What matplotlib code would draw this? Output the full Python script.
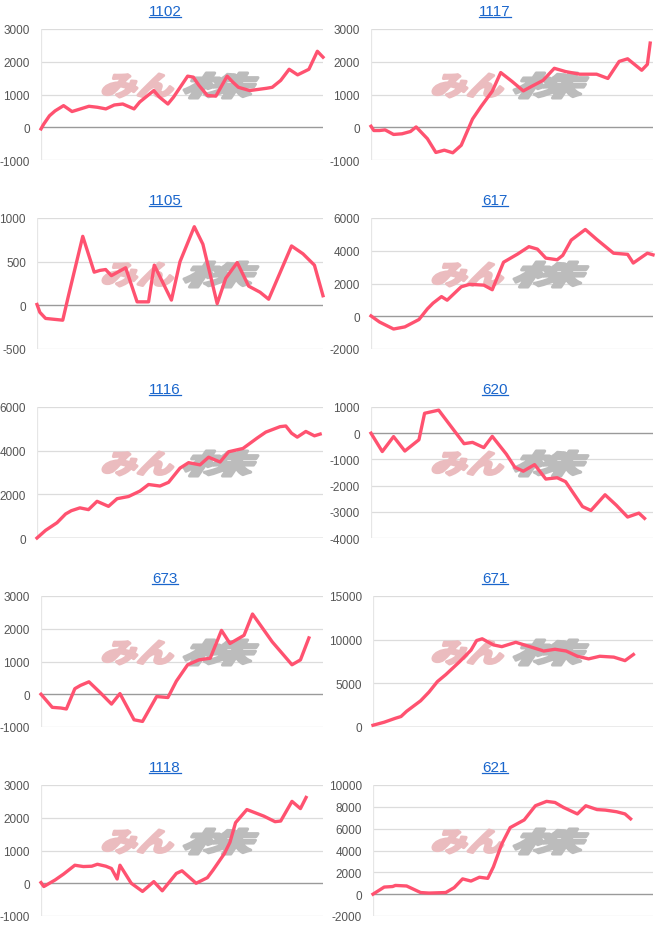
import matplotlib
matplotlib.use('Agg')
import matplotlib.pyplot as plt
from matplotlib.textpath import TextPath
from matplotlib.patches import PathPatch
from matplotlib.font_manager import FontProperties
from matplotlib.transforms import Affine2D, IdentityTransform
from matplotlib.lines import Line2D

plt.rcParams['font.family'] = ['Liberation Sans', 'DejaVu Sans']
plt.rcParams['axes.unicode_minus'] = False

# --- data (x = position along the period, 0..100) ---
names = ['1102', '1117', '1105', '617', '1116', '620', '673', '671', '1118', '621']

x_1102 = [0, 1, 3, 5, 8, 11, 14, 17, 20, 23, 26, 29, 33, 35, 40, 42, 45, 47, 52, 54, 56, 59, 62, 66, 68, 70, 74, 80, 82, 85, 88, 91, 95, 98, 100]
y_1102 = [-50, 100, 350, 500, 660, 480, 560, 640, 610, 560, 680, 710, 560, 770, 1120, 920, 710, 920, 1560, 1530, 1280, 970, 950, 1560, 1380, 1220, 1120, 1190, 1220, 1430, 1770, 1600, 1770, 2320, 2140]

x_1117 = [0, 1, 3, 5, 8, 11, 14, 16, 20, 23, 26, 29, 32, 36, 39, 43, 46, 50, 54, 57, 61, 65, 69, 74, 80, 84, 88, 91, 96, 98, 99]
y_1117 = [30, -100, -100, -80, -220, -200, -130, 10, -350, -770, -700, -780, -550, 250, 630, 1100, 1670, 1400, 1110, 1250, 1430, 1800, 1700, 1620, 1620, 1490, 2010, 2090, 1740, 1920, 2570]

x_1105 = [0, 1, 3, 6, 9, 11, 16, 20, 22, 24, 26, 31, 35, 39, 41, 47, 50, 55, 58, 63, 66, 70, 74, 78, 81, 89, 93, 97, 100]
y_1105 = [10, -80, -150, -160, -170, 110, 790, 380, 400, 410, 340, 430, 40, 40, 460, 60, 500, 900, 700, 20, 310, 490, 220, 150, 70, 680, 590, 460, 110]

x_617 = [0, 3, 8, 12, 17, 20, 22, 25, 27, 32, 35, 40, 43, 47, 52, 56, 59, 62, 66, 68, 71, 76, 80, 86, 91, 93, 98, 100]
y_617 = [20, -350, -780, -650, -200, 450, 800, 1200, 980, 1800, 1950, 1900, 1620, 3300, 3800, 4250, 4100, 3550, 3450, 3720, 4650, 5300, 4700, 3850, 3780, 3250, 3850, 3750]

x_1116 = [0, 3, 7, 10, 12, 15, 18, 21, 25, 28, 32, 36, 39, 43, 46, 50, 53, 57, 60, 64, 67, 72, 77, 80, 85, 87, 89, 91, 94, 97, 99]
y_1116 = [0, 350, 700, 1100, 1250, 1380, 1300, 1680, 1450, 1800, 1900, 2150, 2450, 2380, 2550, 3200, 3450, 3350, 3700, 3480, 3950, 4100, 4580, 4850, 5100, 5130, 4800, 4620, 4880, 4680, 4760]

x_620 = [0, 4, 8, 12, 17, 19, 24, 33, 36, 40, 43, 48, 51, 54, 58, 62, 66, 69, 75, 78, 83, 87, 91, 95, 97]
y_620 = [0, -700, -130, -680, -250, 760, 880, -400, -350, -550, -120, -800, -1300, -1450, -1200, -1750, -1700, -1850, -2800, -2950, -2350, -2750, -3200, -3050, -3250]

x_673 = [0, 4, 7, 9, 12, 14, 17, 21, 25, 28, 33, 36, 41, 45, 48, 52, 56, 60, 64, 67, 72, 75, 82, 89, 92, 95]
y_673 = [0, -400, -420, -450, 170, 270, 380, 50, -300, 20, -780, -830, -70, -100, 400, 900, 1050, 1100, 1950, 1550, 1800, 2450, 1600, 900, 1050, 1720]

x_671 = [0, 4, 8, 10, 12, 17, 20, 23, 26, 31, 35, 37, 39, 43, 46, 51, 56, 61, 65, 69, 73, 77, 81, 86, 90, 93]
y_671 = [200, 550, 1000, 1200, 1800, 3000, 4000, 5200, 6000, 7500, 8800, 9900, 10100, 9400, 9200, 9700, 9200, 8700, 8900, 8700, 8100, 7800, 8100, 8000, 7600, 8300]

x_1118 = [0, 1, 5, 8, 12, 15, 18, 20, 23, 25, 27, 28, 32, 36, 40, 43, 48, 50, 55, 59, 61, 65, 67, 69, 73, 79, 83, 85, 89, 92, 94]
y_1118 = [20, -100, 100, 280, 550, 510, 520, 580, 520, 450, 130, 550, 0, -250, 50, -230, 300, 380, 0, 170, 400, 900, 1250, 1850, 2250, 2050, 1880, 1900, 2500, 2280, 2620]

x_621 = [0, 4, 7, 8, 12, 17, 20, 26, 29, 32, 35, 38, 41, 43, 46, 49, 54, 58, 62, 65, 68, 73, 76, 80, 83, 87, 90, 92]
y_621 = [0, 650, 700, 800, 750, 150, 100, 150, 600, 1400, 1200, 1550, 1450, 2500, 4600, 6100, 6800, 8100, 8500, 8400, 7950, 7350, 8100, 7750, 7700, 7550, 7350, 6900]

xs = [x_1102, x_1117, x_1105, x_617, x_1116, x_620, x_673, x_671, x_1118, x_621]
ys = [y_1102, y_1117, y_1105, y_617, y_1116, y_620, y_673, y_671, y_1118, y_621]

yticks = [[-1000, 0, 1000, 2000, 3000],
          [-1000, 0, 1000, 2000, 3000],
          [-500, 0, 500, 1000],
          [-2000, 0, 2000, 4000, 6000],
          [0, 2000, 4000, 6000],
          [-4000, -3000, -2000, -1000, 0, 1000],
          [-1000, 0, 1000, 2000, 3000],
          [0, 5000, 10000, 15000],
          [-1000, 0, 1000, 2000, 3000],
          [-2000, 0, 2000, 4000, 6000, 8000, 10000]]

# layout in pixels
W, H = 660, 945
lefts = [41, 371, 37, 371, 37, 371, 41, 373, 41, 373]
rights = [323, 653]
tops = [30, 219, 408, 597, 786]
ah = 131

line_col = '#ff5270'
title_col = '#1a66cc'
fp_wm = FontProperties(family='Noto Sans CJK JP', weight='bold')

fig = plt.figure(figsize=(W / 100, H / 100), dpi=100)


def watermark(ax, s, color, x0, x1, ytop, ybot):
    # skewed text fitted into a pixel box (image coords, y down), stroked to look heavy
    tp = TextPath((0, 0), s, size=40, prop=fp_wm)
    p = Affine2D().skew_deg(14, 0).transform_path(tp)
    e = p.get_extents()
    t = Affine2D().translate(-e.x0, -e.y0).scale((x1 - x0) / e.width, (ybot - ytop) / e.height).translate(x0, H - ybot)
    ax.add_patch(PathPatch(t.transform_path(p), transform=IdentityTransform(),
                           fc=color, ec=color, lw=2.2, joinstyle='round', zorder=1.5, clip_on=False))


titles = []
for i, name in enumerate(names):
    row, col = i // 2, i % 2
    L = lefts[i]
    R = rights[col]
    top = tops[row]
    ax = fig.add_axes([L / W, 1 - (top + ah) / H, (R - L) / W, ah / H])
    ax.set_facecolor('white')

    yt = yticks[i]
    ax.set_xlim(0, 100)
    ax.set_ylim(yt[0], yt[-1])
    for v in yt:
        if v == 0:
            ax.axhline(v, color='#9a9a9a', lw=1.0, zorder=1)
        else:
            ax.axhline(v, color='#dcdcdc', lw=0.9, zorder=1)
    ax.axvline(0, color='#e6e6e6', lw=0.9, zorder=1)

    ax.plot(xs[i], ys[i], color=line_col, lw=2.4, zorder=3, clip_on=False, solid_joinstyle='round')

    ax.set_yticks(yt)
    ax.set_yticklabels([str(v) for v in yt])
    ax.set_xticks([])
    ax.tick_params(axis='y', length=0, pad=8, labelsize=8.5, labelcolor='#555555')
    for s in ax.spines.values():
        s.set_visible(False)

    # watermark
    ox = 330 * col
    watermark(ax, 'みん', '#ebbcbf', ox + 103, ox + 173, top + 45, top + 68)
    watermark(ax, '株', '#bcbcbc', ox + 184, ox + 258, top + 44, top + 69)

    # title (link style)
    cx = 165 + 330 * col
    ty = top - 18
    tt = fig.text(cx / W, 1 - ty / H, name, ha='center', va='center', fontsize=11, color=title_col)
    titles.append(tt)

# underline titles
fig.canvas.draw()
r = fig.canvas.get_renderer()
for tt in titles:
    bb = tt.get_window_extent(r)
    yl = (bb.y0 + 1.5) / H
    fig.add_artist(Line2D([bb.x0 / W, bb.x1 / W], [yl, yl], color=title_col, lw=0.9))

plt.savefig('out.png', dpi=100)
